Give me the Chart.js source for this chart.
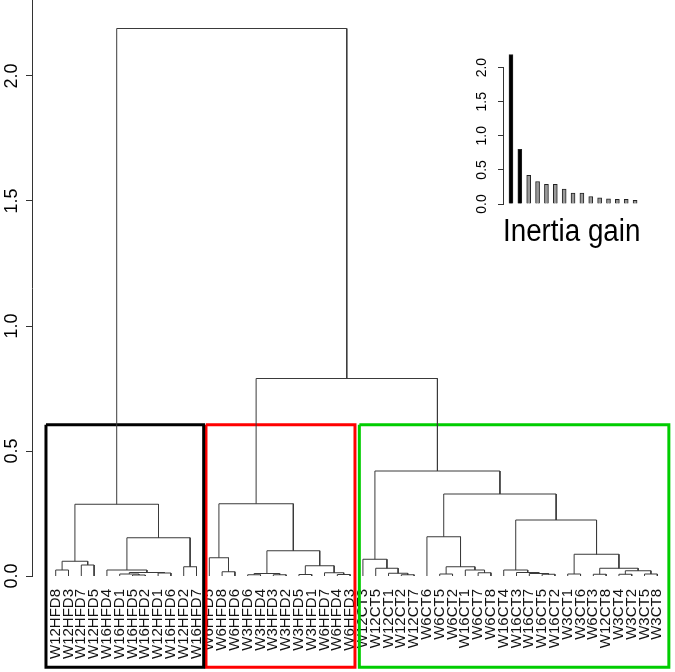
<!DOCTYPE html>
<html>
<head>
<meta charset="utf-8">
<script src="https://cdn.jsdelivr.net/npm/chart.js@4.4.0/dist/chart.umd.min.js"></script>
<style>
  body { margin: 0; background: #fff; }
  #wrap { position: relative; width: 675px; height: 672px; background: #fff; }
  #tree { position: absolute; left: 0; top: 0; }
  #gain { position: absolute; left: 455px; top: 40px; }
</style>
</head>
<body>
<div id="wrap">
  <canvas id="tree" width="675" height="672"></canvas>
  <canvas id="gain" width="200" height="215"></canvas>
</div>
<script>
// leaves in plotting order
const leafLabels = [
    "W12HFD8", "W12HFD3", "W12HFD7", "W12HFD5", "W16HFD4", "W16HFD1",
    "W16HFD5", "W16HFD2", "W12HFD1", "W16HFD6", "W12HFD2", "W16HFD7",
    "W6HFD5", "W6HFD8", "W6HFD6", "W3HFD6", "W3HFD4", "W3HFD3",
    "W3HFD2", "W3HFD5", "W3HFD1", "W6HFD7", "W6HFD4", "W6HFD3",
    "W12CT3", "W12CT5", "W12CT1", "W12CT2", "W12CT7", "W6CT6",
    "W6CT5", "W6CT2", "W16CT1", "W6CT7", "W6CT8", "W16CT4",
    "W16CT3", "W16CT7", "W16CT5", "W16CT2", "W3CT1", "W3CT6",
    "W6CT3", "W12CT8", "W3CT4", "W3CT2", "W3CT5", "W3CT8"
];

// merge table (hclust style): negative = leaf number, positive = earlier merge
const mergeLeft = [
    -1, -3, 1, -7, -6, -9, 5, -5, -11, 8, 3,
    -14, -13, -16, -18, 14, -20, -23, -22, 17, 16, 13,
    -28, -27, -26, -25, -31, -34, -33, 27, -30,
    -39, -38, -37, -36, -41, -43, -45, -47, 38, 37, 36, 35, 31, 26,
    22, 11
];
const mergeRight = [
    -2, -4, 2, -8, 4, -10, 6, 7, -12, 9, 10,
    -15, 12, -17, -19, 15, -21, -24, 18, 19, 20, 21,
    -29, 23, 24, 25, -32, -35, 28, 29, 30,
    -40, 32, 33, 34, -42, -44, -46, -48, 39, 40, 41, 42, 43, 44,
    45, 46
];
const mergeHeight = [
    0.024, 0.044, 0.059, 0.004, 0.008, 0.012, 0.014, 0.024, 0.037, 0.153, 0.287,
    0.017, 0.073, 0.005, 0.005, 0.010, 0.006, 0.006, 0.013, 0.041, 0.101, 0.289,
    0.005, 0.011, 0.031, 0.067, 0.008, 0.013, 0.024, 0.037, 0.157,
    0.007, 0.010, 0.014, 0.024, 0.008, 0.007, 0.007, 0.008, 0.021, 0.031, 0.087, 0.224, 0.328, 0.420,
    0.790, 2.190
];

const clusterFirst = [1, 13, 25];
const clusterLast = [12, 24, 48];
const clusterColors = ["#000000", "#ff0000", "#00cd00"];

const yTicks = [0, 0.5, 1, 1.5, 2];

const gainValues = [2.19, 0.80, 0.42, 0.33, 0.29, 0.29, 0.22, 0.16, 0.16, 0.11, 0.09, 0.075, 0.07, 0.07, 0.055];
const gainTicks = [0, 0.5, 1, 1.5, 2];

Chart.defaults.font.family = "'Liberation Sans', Arial, sans-serif";

/* =========================
      TREE SEGMENTS
========================= */

const nodeX = [];
const segs = [];

function childPos(c) {
    if (c < 0) return { x: -c, y: 0 };
    return { x: nodeX[c - 1], y: mergeHeight[c - 1] };
}

mergeLeft.forEach((l, i) => {
    const a = childPos(l);
    const b = childPos(mergeRight[i]);
    const h = mergeHeight[i];
    nodeX.push((a.x + b.x) / 2);
    segs.push({ x: a.x, y: a.y }, { x: a.x, y: h }, { x: b.x, y: h }, { x: b.x, y: b.y }, { x: b.x, y: null });
});

// cut for 3 groups: halfway between 2nd and 3rd highest merge
const sortedH = [...mergeHeight].sort((p, q) => q - p);
const cut = (sortedH[1] + sortedH[2]) / 2;
const boxBottom = -0.365;
const boxPad = [[0.76, 0.56], [0.26, 0.38], [0.28, 0.9]];

const boxSets = clusterFirst.map((f, i) => {
    const x0 = f - boxPad[i][0];
    const x1 = clusterLast[i] + boxPad[i][1];
    return {
        data: [
            { x: x0, y: cut }, { x: x1, y: cut }, { x: x1, y: boxBottom },
            { x: x0, y: boxBottom }, { x: x0, y: cut }
        ],
        borderColor: clusterColors[i],
        borderWidth: 3,
        pointRadius: 0,
        tension: 0,
        clip: false,
        borderJoinStyle: "miter"
    };
});

new Chart(document.getElementById("tree"), {

    type: "line",

    data: {
        datasets: [
            {
                data: segs,
                borderColor: "#3a3a3a",
                borderWidth: 1,
                pointRadius: 0,
                spanGaps: false,
                tension: 0
            },
            ...boxSets
        ]
    },

    options: {
        responsive: false,
        animation: false,
        layout: { padding: 0 },
        plugins: {
            legend: { display: false },
            tooltip: { enabled: false }
        },
        scales: {
            x: {
                type: "linear",
                min: -0.852,
                max: 49.38,
                grid: { display: false, drawTicks: false },
                border: { display: false },
                afterBuildTicks: (s) => { s.ticks = leafLabels.map((_, i) => ({ value: i + 1 })); },
                afterFit: (s) => { s.height = 96; s.paddingLeft = 0; s.paddingRight = 0; },
                ticks: {
                    autoSkip: false,
                    minRotation: 90,
                    maxRotation: 90,
                    padding: 13,
                    color: "#111",
                    font: { size: 15 },
                    callback: (v) => leafLabels[v - 1]
                }
            },
            y: {
                min: 0,
                max: 2.304,
                afterBuildTicks: (s) => { s.ticks = yTicks.map((v) => ({ value: v })); },
                afterFit: (s) => { s.width = 32; s.paddingTop = 0; s.paddingBottom = 0; },
                grid: { drawOnChartArea: false, tickLength: 6, color: "#333" },
                border: { color: "#333" },
                ticks: {
                    minRotation: 90,
                    maxRotation: 90,
                    crossAlign: "center",
                    padding: 1,
                    color: "#000",
                    font: { size: 18 },
                    callback: (v) => v.toFixed(1)
                }
            }
        }
    }

});

/* =========================
      INERTIA GAIN INSET
========================= */

new Chart(document.getElementById("gain"), {

    type: "bar",

    data: {
        datasets: [{
            data: gainValues.map((v, i) => ({ x: i + 1, y: v })),
            backgroundColor: gainValues.map((v, i) => i < 2 ? "#000000" : "#9a9a9a"),
            borderColor: "#222",
            borderWidth: 1,
            barThickness: 4,
            clip: false
        }]
    },

    options: {
        responsive: false,
        animation: false,
        layout: { padding: { top: 27.6, right: 14.6, bottom: 4.1, left: 0 } },
        plugins: {
            legend: { display: false },
            tooltip: { enabled: false }
        },
        scales: {
            x: {
                type: "linear",
                offset: false,
                min: 0.1,
                max: 15.6,
                grid: { display: false, drawTicks: false, offset: false },
                border: { display: false },
                ticks: { display: false },
                afterFit: (s) => { s.paddingLeft = 0; s.paddingRight = 0; },
                title: {
                    display: true,
                    text: "Inertia gain",
                    color: "#000",
                    font: { size: 31 },
                    padding: { top: 9.7, bottom: 0 }
                }
            },
            y: {
                min: 0,
                max: 2,
                afterBuildTicks: (s) => { s.ticks = gainTicks.map((v) => ({ value: v })); },
                afterFit: (s) => { s.width = 48; s.paddingTop = 0; s.paddingBottom = 0; },
                grid: { drawOnChartArea: false, tickLength: 5, color: "#333" },
                border: { color: "#333" },
                ticks: {
                    minRotation: 90,
                    maxRotation: 90,
                    crossAlign: "center",
                    padding: 6,
                    color: "#000",
                    font: { size: 14 },
                    callback: (v) => v.toFixed(1)
                }
            }
        }
    }

});
</script>
</body>
</html>
